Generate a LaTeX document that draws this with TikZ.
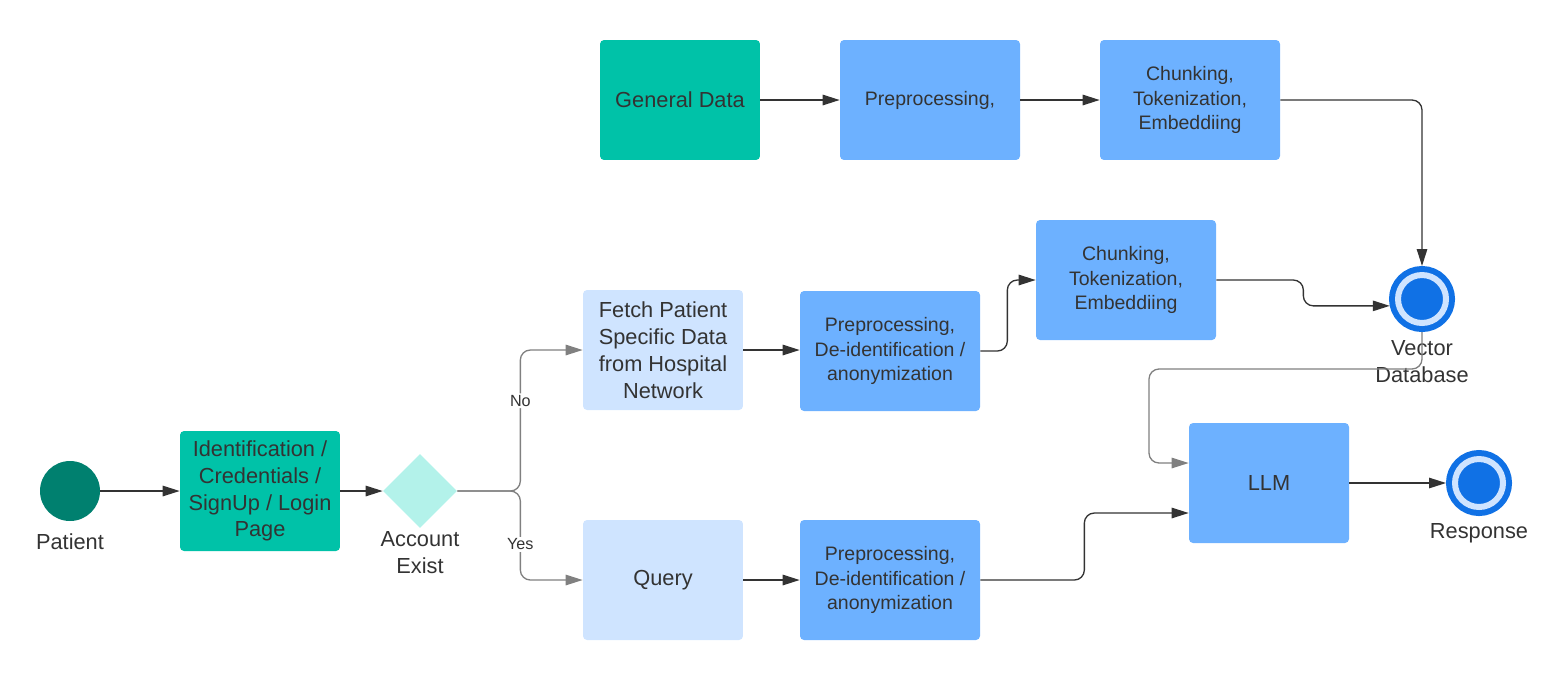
\documentclass[tikz,border=0pt]{standalone}
\usepackage{fontspec}
\setmainfont{Liberation Sans}
\usetikzlibrary{arrows.meta, shapes.geometric, positioning}
\definecolor{ink}{HTML}{333333}
\definecolor{startteal}{HTML}{00806F}
\definecolor{boxteal}{HTML}{00C2A8}
\definecolor{mint}{HTML}{B3F2EA}
\definecolor{paleblue}{HTML}{CFE4FF}
\definecolor{midblue}{HTML}{6DB1FF}
\definecolor{dbblue}{HTML}{1071E5}
\definecolor{wiregray}{HTML}{808080}

\begin{document}
\begin{tikzpicture}[x=0.02cm, y=-0.02cm,
	big/.style={font=\fontsize{12.4}{15.3}\selectfont},
	small/.style={font=\fontsize{11.1}{13.9}\selectfont},
	box/.style={rectangle, rounded corners=0.08cm, minimum width=3.2cm, minimum height=2.4cm, inner sep=0, align=center, text=ink},
	widebox/.style={box, minimum width=3.6cm, fill=midblue, small},
	endring/.style={circle, minimum size=0.96cm, inner sep=0, outer sep=0.18cm, draw=dbblue, line width=0.12cm, double=paleblue, double distance=0.12cm, fill=dbblue},
	lbl/.style={big, text=ink, align=center, inner sep=0},
	flow/.style={draw=ink, line width=0.75pt, rounded corners=0.2cm, -{Triangle[length=0.34cm, width=0.21cm]}},
	branch/.style={flow, draw=wiregray}]
	\useasboundingbox (0,0) rectangle (1550,681);

	\node[circle, fill=startteal, minimum size=1.2cm, inner sep=0] (patient) at (70,491) {};
	\node[box, fill=boxteal, big] (login) at (260,491) {Identification /\\Credentials /\\SignUp / Login\\Page};
	\node[diamond, fill=mint, minimum width=1.48cm, minimum height=1.48cm, inner sep=0] (account) at (420,491) {};

	\node[box, fill=paleblue, big] (fetch) at (663,350) {Fetch Patient\\Specific Data\\from Hospital\\Network};
	\node[box, fill=paleblue, big] (query) at (663,580) {Query};
	\node[widebox] (prepA) at (890,351) {Preprocessing,\\De-identification /\\anonymization};
	\node[widebox] (prepB) at (890,580) {Preprocessing,\\De-identification /\\anonymization};
	\node[widebox] (chunkA) at (1126,280) {Chunking,\\Tokenization,\\Embeddiing};

	\node[box, fill=boxteal, big] (general) at (680,100) {General Data};
	\node[widebox] (prepG) at (930,100) {Preprocessing,};
	\node[widebox] (chunkG) at (1190,100) {Chunking,\\Tokenization,\\Embeddiing};

	\node[endring] (vdb) at (1422,299) {};
	\node[box, fill=midblue, big] (llm) at (1269,483) {LLM};
	\node[endring] (resp) at (1479,483) {};

	\node[lbl, yshift=-0.4cm] (patlbl) at (patient.south) {Patient};
	\node[lbl, yshift=-0.48cm] (acclbl) at (account.south) {Account\\Exist};
	\node[lbl, yshift=-0.6cm] (vdblbl) at (vdb.south) {Vector\\Database};
	\node[lbl, yshift=-0.34cm] (resplbl) at (resp.south) {Response};

	\draw[flow] (patient) -- (login);
	\draw[flow] (login) -- (account);
	\draw[branch] (account.east) -- ++(63,0) |- (fetch.west)
		node[pos=0.32, fill=white, text=ink, font=\fontsize{9.2}{11}\selectfont, inner sep=1pt] {No};
	\draw[branch] (account.east) -- ++(63,0) |- (query.west)
		node[pos=0.3, fill=white, text=ink, font=\fontsize{9.2}{11}\selectfont, inner sep=1pt] {Yes};
	\draw[flow] (fetch.east) -- (fetch.east -| prepA.west);
	\draw[flow] (query.east) -- (prepB.west);
	\draw[flow] (prepA.east) -- ++(27,0) |- (chunkA.west);
	\draw[flow] (chunkA.east) -- ++(87,0) |- (vdb.192);
	\draw[flow] (general) -- (prepG);
	\draw[flow] (prepG) -- (chunkG);
	\draw[flow] (chunkG.east) -| (vdb.north);
	\draw[branch] (vdb.south) |- ++(-273,37) |- ([yshift=0.4cm]llm.west);
	\draw[flow] (prepB.east) -- ++(104,0) |- ([yshift=-0.6cm]llm.west);
	\draw[flow] (llm) -- (resp);
\end{tikzpicture}
\end{document}
